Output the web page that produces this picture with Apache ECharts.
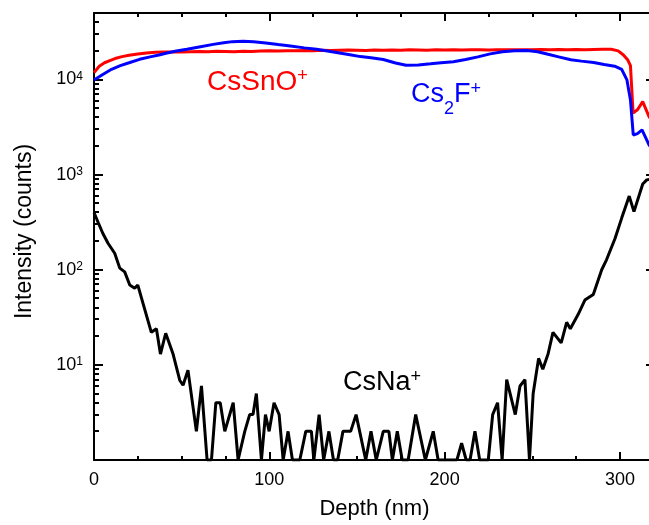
<!DOCTYPE html>
<html>
<head>
<meta charset="utf-8">
<script src="https://cdn.jsdelivr.net/npm/echarts@6/dist/echarts.min.js"></script>
<style>
html,body{margin:0;padding:0;background:#fff;}
#chart{width:649px;height:525px;}
</style>
</head>
<body>
<div id="chart"></div>
<script>
// ---- Data ----
const depthRed = [0, 3, 6, 9, 12, 16, 20, 25, 30, 35, 40, 45, 50, 55, 60, 65, 70, 75, 80, 85, 90, 95, 100, 105, 110, 115, 120, 125, 130, 135, 140, 145, 150, 155, 160, 165, 170, 175, 180, 185, 190, 195, 200, 205, 210, 215, 220, 225, 230, 235, 240, 245, 250, 255, 260, 265, 270, 275, 280, 285, 290, 295, 299, 302, 304.5, 306, 307.5, 310, 313, 316.6, 320];
const intensityRed = [11800, 13800, 15000, 15800, 16600, 17400, 18000, 18500, 19000, 19300, 19400, 19500, 19400, 19600, 19700, 19600, 19800, 19700, 19600, 19800, 19700, 19900, 20000, 19900, 20100, 20000, 20200, 20100, 20300, 20200, 20300, 20400, 20300, 20200, 20400, 20300, 20400, 20300, 20500, 20400, 20300, 20500, 20400, 20500, 20400, 20600, 20500, 20400, 20600, 20500, 20600, 20500, 20600, 20700, 20500, 20700, 20600, 20700, 20600, 20700, 20800, 20800, 20000, 18100, 16000, 14000, 4450, 4800, 5860, 4070, 3300];

const depthBlue = [0, 5, 10, 15, 20, 26, 32, 37, 41, 47, 53, 60, 68, 74, 79, 85, 91, 98, 105, 112, 120, 127, 134, 140, 146, 152, 158, 165, 172, 178, 185, 192, 198, 205, 212, 219, 226, 233, 240, 247, 253, 259, 265, 272, 278, 285, 291, 297, 301, 304, 306, 307.6, 310, 312.6, 316.6, 320];
const intensityBlue = [9900, 11300, 12800, 14000, 15000, 16300, 17300, 18100, 18900, 19900, 20800, 22000, 23400, 24300, 25000, 25200, 25000, 24200, 23300, 22500, 21500, 20800, 19800, 19000, 18200, 17400, 16900, 16200, 14900, 14100, 14200, 14600, 15000, 15400, 16200, 17300, 18600, 19600, 20100, 20200, 19600, 18400, 17300, 16100, 15600, 15100, 14400, 13800, 12800, 9900, 6100, 2610, 2700, 2950, 2050, 1700];

const depthNa = [0, 2.5, 5, 8, 11.8, 14.7, 17.5, 20.4, 23.2, 25, 28, 32.7, 35.6, 37.9, 40.9, 45, 48.9, 50.8, 53.6, 58.4, 61.3, 64.5, 67, 69.5, 72, 74.6, 79.4, 82.2, 86, 88.8, 90.7, 92.6, 95.5, 97.8, 99.9, 102.7, 105.6, 107.9, 110.7, 113.2, 117.4, 120.8, 124, 125.4, 128.4, 131, 134, 136.6, 139, 142, 146.4, 149.5, 155, 158, 161, 165, 168.2, 170.2, 173, 175.8, 179.2, 183.5, 189, 193.5, 196.3, 207, 209.7, 212.3, 214.5, 217.3, 220, 224.9, 227.4, 230.2, 232.8, 235.4, 240.3, 243, 245.8, 248.4, 250.5, 253.6, 256, 259, 261.8, 266.5, 269.6, 271.7, 276.2, 280, 284.8, 289.6, 292.4, 297.2, 301, 305.3, 308, 313, 315.3, 318, 320];
const countsNa = [400, 310, 242, 190, 149, 104, 95, 69, 64, 69, 44, 22, 24, 13, 21.5, 13.2, 6.9, 6.1, 8.8, 2, 6, 1, 1, 4, 4, 2, 4, 1, 2, 3, 3, 5, 1, 3, 2, 4, 3, 1, 2, 1, 1, 2, 2, 1, 3, 1, 2, 1, 1, 2, 2, 3, 1, 2, 1, 2, 2, 1, 2, 1, 1, 3, 1, 2, 1, 1, 1.5, 1, 1, 2, 1, 1, 3, 4, 1, 7, 3, 6, 7, 1, 5, 11.7, 9, 13, 22, 17, 28, 24, 34, 48, 55, 100, 128, 213, 349, 595, 408, 796, 880, 900, 880];

const xTickLabels = [0, 100, 200, 300];
const yTickLabels = [10, 100, 1000, 10000];
const yMinorTicks = [2, 3, 4, 5, 6, 7, 8, 9, 20, 30, 40, 50, 60, 70, 80, 90, 200, 300, 400, 500, 600, 700, 800, 900, 2000, 3000, 4000, 5000, 6000, 7000, 8000, 9000, 20000, 30000, 40000];

const FONT = 'Liberation Sans, Arial, sans-serif';
const zip = (xs, ys) => xs.map((x, i) => [x, ys[i]]);

const chart = echarts.init(document.getElementById('chart'), null, {renderer: 'canvas'});

const xBase = {
  type: 'value', min: 0, max: 320, gridIndex: 0,
  splitLine: {show: false},
  axisLabel: {show: false}
};
const lineStyleAxis = {color: '#000', width: 2};
const tickStyle = {color: '#000', width: 2};

const option = {
  animation: false,
  backgroundColor: '#fff',
  grid: {left: 94, top: 13, width: 561, height: 447, containLabel: false, outerBoundsMode: 'none'},
  xAxis: [
    Object.assign({}, xBase, {
      position: 'bottom', interval: 100,
      axisLine: {show: true, onZero: false, lineStyle: lineStyleAxis},
      axisTick: {show: true, inside: true, length: 8, lineStyle: tickStyle},
      axisLabel: {
        show: true, margin: 11, color: '#000', fontSize: 18, fontFamily: FONT,
        formatter: v => xTickLabels.indexOf(v) >= 0 ? String(v) : ''
      },
      name: 'Depth (nm)', nameLocation: 'middle', nameGap: 38,
      nameTextStyle: {fontSize: 22, fontFamily: FONT, color: '#000'}
    }),
    Object.assign({}, xBase, {
      position: 'bottom', interval: 25,
      axisLine: {show: false, onZero: false},
      axisTick: {show: true, inside: true, length: 4, lineStyle: tickStyle}
    }),
    Object.assign({}, xBase, {
      position: 'top', interval: 100,
      axisLine: {show: true, onZero: false, lineStyle: lineStyleAxis},
      axisTick: {show: true, inside: true, length: 8, lineStyle: tickStyle}
    }),
    Object.assign({}, xBase, {
      position: 'top', interval: 25,
      axisLine: {show: false, onZero: false},
      axisTick: {show: true, inside: true, length: 4, lineStyle: tickStyle}
    })
  ],
  yAxis: [
    {
      type: 'log', logBase: 10, min: 1, max: 50000, position: 'left', gridIndex: 0,
      splitLine: {show: false},
      axisLine: {show: true, onZero: false, lineStyle: lineStyleAxis},
      axisTick: {show: true, inside: true, length: 9, lineStyle: tickStyle},
      axisLabel: {
        show: true, margin: 11, color: '#000', fontFamily: FONT,
        formatter: v => {
          const hit = yTickLabels.find(t => Math.abs(t - v) < 1e-6 * t);
          return hit ? '{b|10}{s|' + Math.round(Math.log10(hit)) + '}' : '';
        },
        rich: {
          b: {fontSize: 18, lineHeight: 18, fontFamily: FONT, color: '#000'},
          s: {fontSize: 12, lineHeight: 12, verticalAlign: 'top', fontFamily: FONT, color: '#000'}
        }
      },
      name: 'Intensity (counts)', nameLocation: 'middle', nameGap: 58, nameRotate: 90,
      nameTextStyle: {fontSize: 23, fontFamily: FONT, color: '#000', padding: [0, 0, 0, 10]}
    },
    {
      type: 'log', logBase: 10, min: 1, max: 50000, position: 'right', gridIndex: 0,
      splitLine: {show: false},
      axisLine: {show: true, onZero: false, lineStyle: lineStyleAxis},
      axisTick: {show: true, inside: true, length: 9, lineStyle: tickStyle},
      axisLabel: {show: false}
    }
  ],
  series: [
    {
      name: 'CsSnO+', type: 'line', xAxisIndex: 0, yAxisIndex: 0,
      data: zip(depthRed, intensityRed), showSymbol: false, symbol: 'none',
      lineStyle: {color: '#ff0000', width: 3}, z: 3
    },
    {
      name: 'Cs2F+', type: 'line', xAxisIndex: 0, yAxisIndex: 0,
      data: zip(depthBlue, intensityBlue), showSymbol: false, symbol: 'none',
      lineStyle: {color: '#0000ff', width: 3}, z: 4
    },
    {
      name: 'CsNa+', type: 'line', xAxisIndex: 0, yAxisIndex: 0,
      data: zip(depthNa, countsNa), showSymbol: false, symbol: 'none',
      lineStyle: {color: '#000000', width: 3}, z: 5
    },
    {
      name: 'yMinor', type: 'custom', xAxisIndex: 0, yAxisIndex: 0,
      data: yMinorTicks.map(v => [0, v]), silent: true, clip: false, z: 6,
      renderItem: (params, api) => {
        const p = api.coord([0, api.value(1)]);
        const y = Math.round(p[1]);
        return {type: 'line', shape: {x1: p[0], y1: y, x2: p[0] + 5, y2: y},
                style: {stroke: '#000', lineWidth: 2}};
      }
    }
  ],
  graphic: [
    {
      type: 'text', left: 207, top: 67, z: 20,
      style: {
        text: '{m|CsSnO}{p|+}',
        rich: {
          m: {fontSize: 28, lineHeight: 30, fontFamily: FONT, fill: '#ff0000'},
          p: {fontSize: 18, lineHeight: 18, verticalAlign: 'top', fontFamily: FONT, fill: '#ff0000'}
        }
      }
    },
    {
      type: 'text', left: 411, top: 80, z: 20,
      style: {
        text: '{m|Cs}{d|2}{m|F}{p|+}',
        rich: {
          m: {fontSize: 27, lineHeight: 30, fontFamily: FONT, fill: '#0000ff'},
          d: {fontSize: 18, lineHeight: 18, verticalAlign: 'bottom', padding: [0, 0, -8, 0], fontFamily: FONT, fill: '#0000ff'},
          p: {fontSize: 18, lineHeight: 18, verticalAlign: 'top', fontFamily: FONT, fill: '#0000ff'}
        }
      }
    },
    {
      type: 'text', left: 343, top: 368, z: 20,
      style: {
        text: '{m|CsNa}{p|+}',
        rich: {
          m: {fontSize: 27, lineHeight: 30, fontFamily: FONT, fill: '#000'},
          p: {fontSize: 18, lineHeight: 18, verticalAlign: 'top', fontFamily: FONT, fill: '#000'}
        }
      }
    }
  ]
};
chart.setOption(option);
</script>
</body>
</html>
